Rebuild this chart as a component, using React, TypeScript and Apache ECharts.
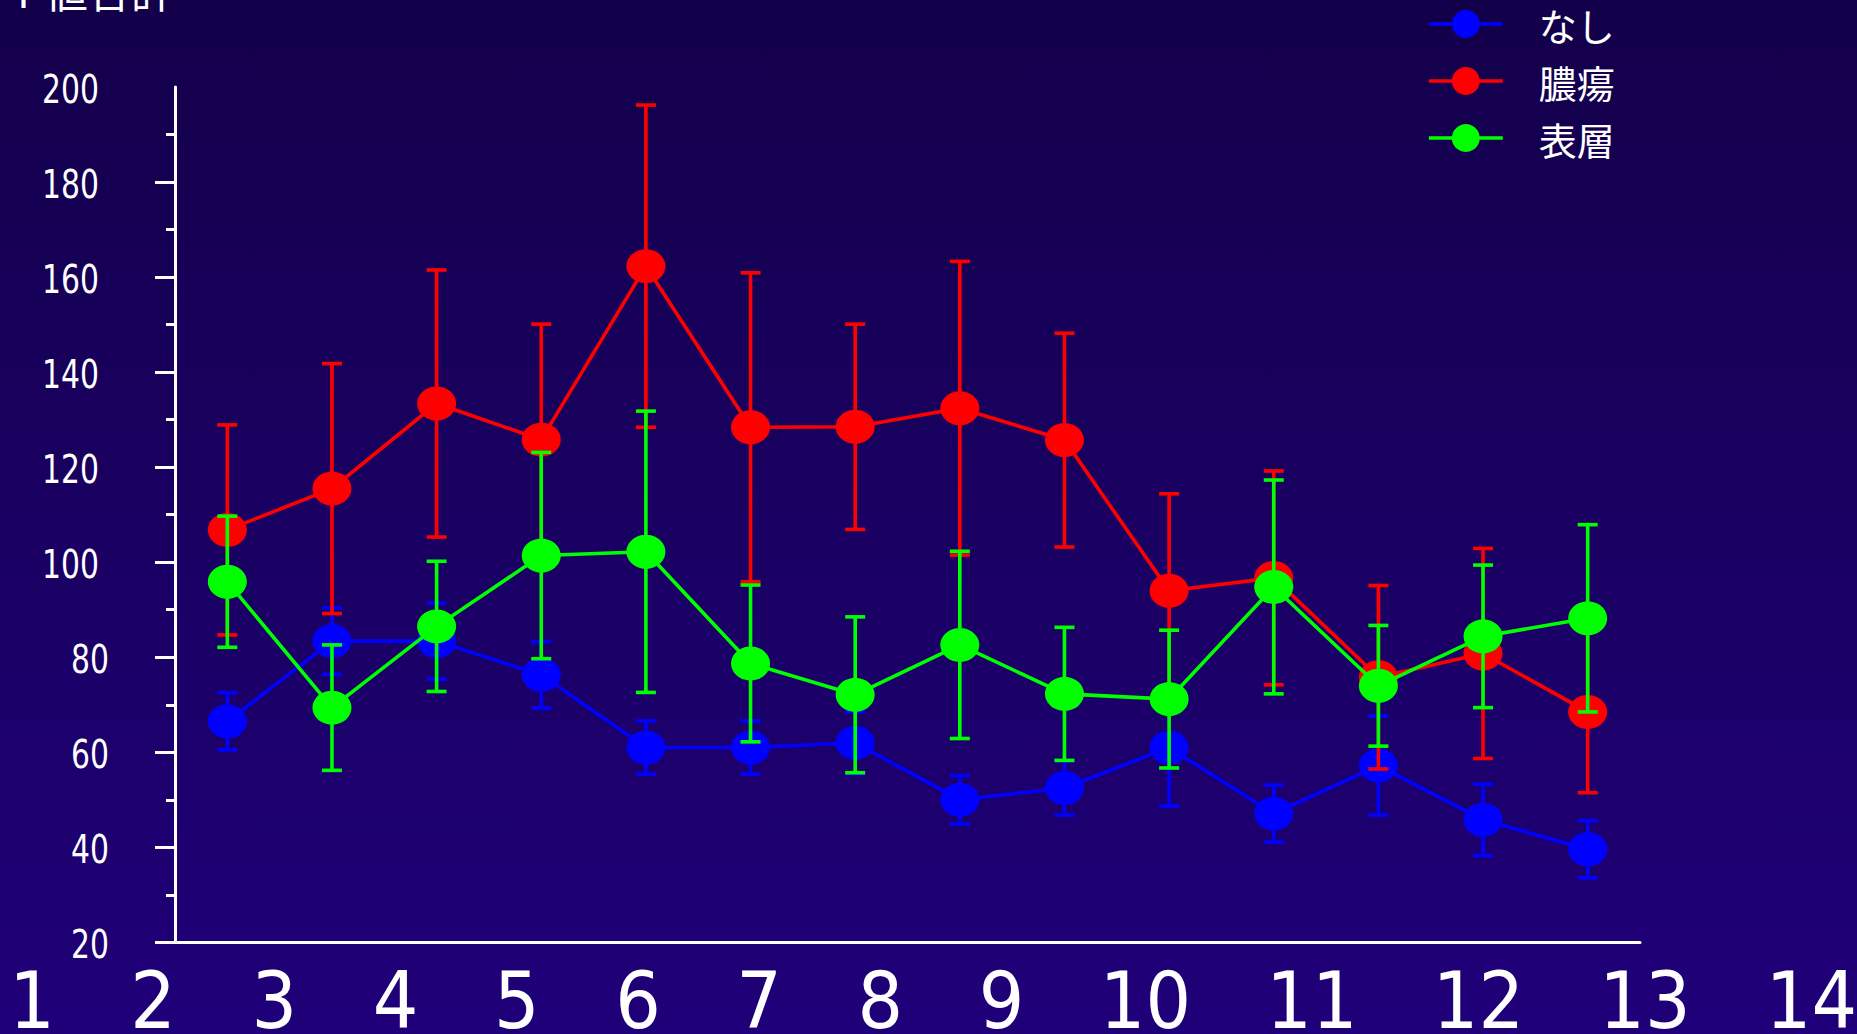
import React, { useEffect, useRef } from 'react';
import * as echarts from 'echarts';

// Time points on the category axis
const timePoints = ['1', '2', '3', '4', '5', '6', '7', '8', '9', '10', '11', '12', '13', '14'];
// Large numbering written under the plot
const bottomLabels = ['1', '2', '3', '4', '5', '6', '7', '8', '9', '10', '11', '12', '13', '14'];

const seriesNames = ['なし', '膿瘍', '表層'];
const seriesColors = ['#0000ff', '#ff0000', '#00ff00'];

// なし : mean and SD
const nashiMean = [66.5, 83.4, 83.4, 76.3, 61.0, 61.0, 62.0, 50.0, 52.5, 61.0, 47.1, 57.2, 45.8, 39.6];
const nashiSd = [6.0, 7.0, 8.0, 7.0, 5.6, 5.6, 6.5, 5.1, 5.7, 12.3, 6.0, 10.4, 7.5, 6.0];

// 膿瘍 : mean and SD
const noyoMean = [106.8, 115.5, 133.4, 125.8, 162.3, 128.4, 128.5, 132.4, 125.7, 94.0, 96.7, 75.8, 80.8, 68.5];
const noyoSd = [22.1, 26.3, 28.1, 24.3, 33.9, 32.5, 21.6, 30.9, 22.5, 20.4, 22.5, 19.3, 22.1, 17.0];

// 表層 : mean and SD
const hyosoMean = [95.9, 69.4, 86.5, 101.4, 102.2, 78.7, 72.1, 82.6, 72.3, 71.2, 94.8, 74.0, 84.4, 88.2];
const hyosoSd = [13.8, 13.2, 13.7, 21.7, 29.6, 16.5, 16.4, 19.7, 14.0, 14.5, 22.5, 12.7, 15.0, 19.7];

// Y axis
const yMin = 20;
const yMax = 200;
const yStep = 20;
const yMajorTicks = [20, 40, 60, 80, 100, 120, 140, 160, 180];
const yLabels = [20, 40, 60, 80, 100, 120, 140, 160, 180, 200];

const titleText = 'Ｔ値合計';

const W = 1857;
const H = 1034;
const NUM_FONT = '"DejaVu Sans Condensed", "Liberation Sans Narrow", sans-serif';
const CJK_FONT = '"Noto Sans CJK JP", "Noto Sans", sans-serif';
const LINE_W = 3.6;

const means = [nashiMean, noyoMean, hyosoMean];
const sds = [nashiSd, noyoSd, hyosoSd];

function errorBarSeries(idx: number) {
  const color = seriesColors[idx];
  return {
    type: 'custom',
    name: seriesNames[idx] + ' SD',
    z: 2 + idx * 2,
    data: means[idx].map((m, i) => [i, m, sds[idx][i]]),
    encode: { x: 0, y: 1 },
    renderItem: (params: any, api: any) => {
      const i = api.value(0);
      const m = api.value(1);
      const s = api.value(2);
      const top = api.coord([i, m + s]);
      const bot = api.coord([i, m - s]);
      const half = 10;
      const style = { stroke: color, lineWidth: LINE_W };
      return {
        type: 'group',
        children: [
          { type: 'line', shape: { x1: top[0], y1: top[1], x2: bot[0], y2: bot[1] }, style },
          { type: 'line', shape: { x1: top[0] - half, y1: top[1], x2: top[0] + half, y2: top[1] }, style },
          { type: 'line', shape: { x1: bot[0] - half, y1: bot[1], x2: bot[0] + half, y2: bot[1] }, style },
        ],
      };
    },
  };
}

function lineSeries(idx: number) {
  const color = seriesColors[idx];
  return {
    type: 'line',
    name: seriesNames[idx],
    z: 3 + idx * 2,
    data: means[idx],
    symbol: 'circle',
    symbolSize: [39, 34],
    showAllSymbol: true,
    itemStyle: { color, borderWidth: 0 },
    lineStyle: { color, width: LINE_W },
  };
}

// Narrow tick labels placed on the value scale of the y axis
function yLabelSeries() {
  return {
    type: 'custom',
    name: 'y-labels',
    z: 10,
    clip: false,
    silent: true,
    data: yLabels.map((v) => [0, v]),
    encode: { x: 0, y: 1 },
    renderItem: (params: any, api: any) => {
      const v = api.value(1);
      const p = api.coord([0, v]);
      const axisX = params.coordSys.x;
      const right = v >= 100 ? axisX - 76 : axisX - 66;
      return {
        type: 'text',
        x: right,
        y: p[1] + 2.5,
        scaleX: 0.85,
        scaleY: 1,
        style: {
          text: String(v),
          fill: '#ffffff',
          fontSize: 39,
          fontFamily: NUM_FONT,
          align: 'right',
          verticalAlign: 'middle',
        },
      };
    },
  };
}

function bottomRichText() {
  return bottomLabels.map((t) => (t.length > 1 ? `{d|${t}}` : `{s|${t}}`)).join('');
}

export default function App() {
  const ref = useRef<HTMLDivElement>(null);

  useEffect(() => {
    document.body.style.margin = '0';
    if (!ref.current) return;
    const chart = echarts.init(ref.current, undefined, { renderer: 'svg', width: W, height: H });

    const digitScale = 0.92;
    const digitStyle = {
      fontSize: 78,
      lineHeight: 64,
      fontFamily: '"DejaVu Sans", sans-serif',
      color: '#ffffff',
      align: 'center',
    };

    chart.setOption({
      animation: false,
      backgroundColor: new echarts.graphic.LinearGradient(0, 0, 0, 1, [
        { offset: 0, color: '#13004a' },
        { offset: 1, color: '#200079' },
      ]),
      grid: { left: 175, right: 217, top: 87, bottom: 91.6, containLabel: false },
      legend: {
        data: seriesNames,
        orient: 'vertical',
        left: 1422,
        top: 0,
        itemWidth: 74,
        itemHeight: 35,
        itemGap: 19,
        selectedMode: false,
        lineStyle: { width: LINE_W },
        textStyle: {
          color: '#ffffff',
          fontSize: 38,
          fontFamily: CJK_FONT,
          padding: [14, 0, 0, 31],
        },
      },
      xAxis: {
        type: 'category',
        data: timePoints,
        boundaryGap: true,
        axisLine: { show: true, lineStyle: { color: '#ffffff', width: 3 } },
        axisTick: { show: false },
        axisLabel: { show: false },
        splitLine: { show: false },
      },
      yAxis: {
        type: 'value',
        min: yMin,
        max: yMax,
        interval: yStep,
        axisLine: { show: true, lineStyle: { color: '#ffffff', width: 3 } },
        axisTick: {
          show: true,
          length: 20,
          customValues: yMajorTicks,
          lineStyle: { color: '#ffffff', width: 3 },
        },
        minorTick: {
          show: true,
          splitNumber: 2,
          length: 9,
          lineStyle: { color: '#ffffff', width: 3 },
        },
        splitLine: { show: false },
        minorSplitLine: { show: false },
        axisLabel: { show: false },
      },
      graphic: [
        {
          type: 'text',
          x: 2,
          y: -11,
          style: {
            text: titleText,
            fill: '#ffffff',
            fontSize: 43,
            fontFamily: CJK_FONT,
            verticalAlign: 'middle',
            align: 'left',
          },
        },
        {
          type: 'text',
          x: -28.6,
          y: 1001,
          scaleX: digitScale,
          style: {
            text: bottomRichText(),
            fill: '#ffffff',
            fontSize: 78,
            lineHeight: 64,
            fontFamily: '"DejaVu Sans", sans-serif',
            verticalAlign: 'middle',
            align: 'left',
            rich: {
              s: { ...digitStyle, width: 121.2 / digitScale },
              d: { ...digitStyle, width: 166.5 / digitScale },
            },
          },
        },
      ],
      series: [
        errorBarSeries(0),
        lineSeries(0),
        errorBarSeries(1),
        lineSeries(1),
        errorBarSeries(2),
        lineSeries(2),
        yLabelSeries(),
      ],
    });

    return () => {
      chart.dispose();
    };
  }, []);

  return (
    <div
      ref={ref}
      style={{ position: 'fixed', left: 0, top: 0, width: W, height: H }}
    />
  );
}
